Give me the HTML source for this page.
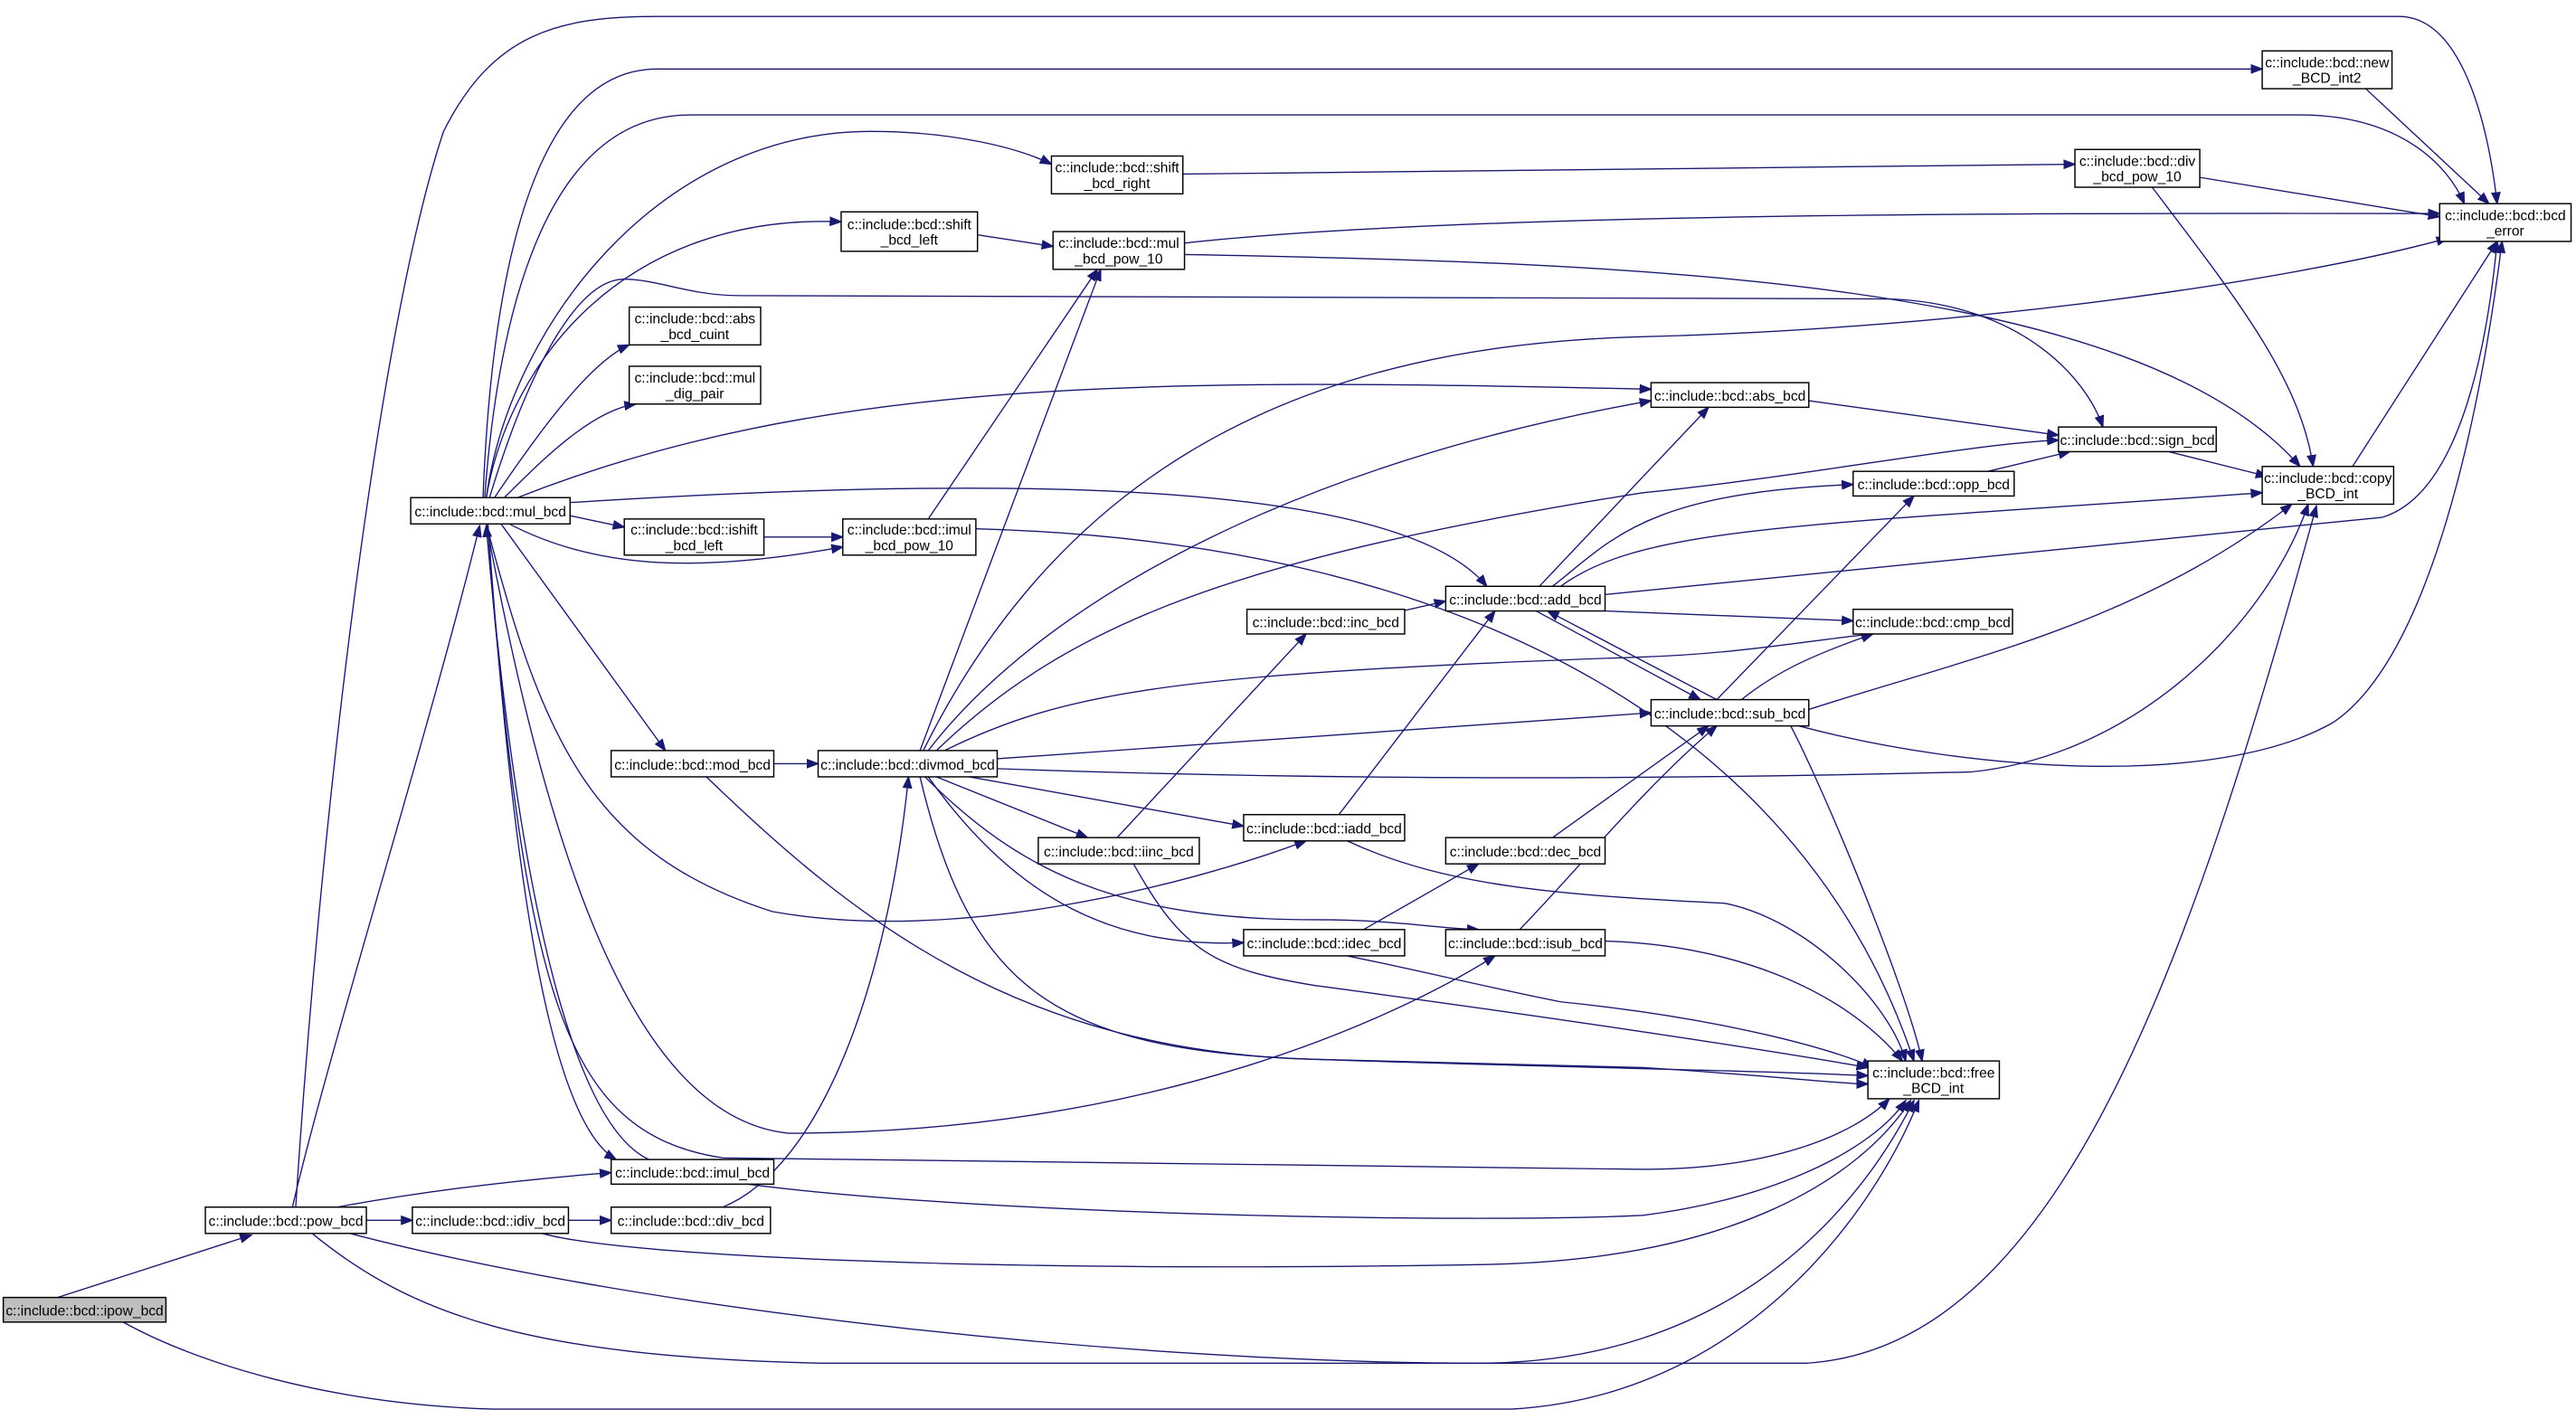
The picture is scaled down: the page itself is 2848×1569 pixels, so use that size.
<!DOCTYPE html>
<html><head><meta charset="utf-8"><style>
html,body{margin:0;padding:0;background:#fff;width:2848px;height:1569px;overflow:hidden}
svg{display:block}
text{font-family:"Liberation Sans",sans-serif;font-size:8.6px;fill:#000}
</style></head><body>
<svg width="2848" height="1569" viewBox="0 0 1568 864" preserveAspectRatio="none" xmlns="http://www.w3.org/2000/svg">
<defs>
<marker id="a" markerUnits="userSpaceOnUse" markerWidth="8" markerHeight="6" refX="7" refY="3" orient="auto" viewBox="0 0 8 6">
<path d="M0,0 L8,3 L0,6 z" fill="#191970"/></marker>
</defs>
<g fill="none" stroke="#191970" stroke-width="0.75" marker-end="url(#a)">
<path d="M35,790 L153,752"/>
<path d="M75,805 C120,830 200,855 300,858 L920,858 C1060,850 1140,740 1168,670"/>
<path d="M178,735 C200,640 260,450 292,320"/>
<path d="M395,706 C360,690 320,600 296,320"/>
<path d="M297,319 C310,500 330,680 375,706"/>
<path d="M205,735 C260,725 320,718 372,714"/>
<path d="M223,743 L251,743"/>
<path d="M346,743 L372,743"/>
<path d="M440,735 C500,710 540,600 553,473"/>
<path d="M180,735 C195,500 230,200 270,80 C300,20 340,10 400,10 L1460,10 C1500,10 1515,80 1520,124"/>
<path d="M190,751 C250,800 320,826 500,830 L1100,830 C1250,820 1330,600 1410,308"/>
<path d="M213,751 C400,800 700,830 900,830 C1050,830 1130,740 1165,670"/>
<path d="M330,751 C380,765 600,775 900,770 C1050,768 1130,720 1163,670"/>
<path d="M455,721 C600,740 900,745 1000,740 C1080,730 1140,700 1160,670"/>
<path d="M296,319 C320,600 340,690 440,705 L1000,712 C1080,712 1130,690 1150,669"/>
<path d="M296,319 C330,500 380,680 480,690 C700,690 850,620 910,582"/>
<path d="M296,319 C330,450 360,520 470,555 C580,575 720,540 795,512"/>
<path d="M305,319 L405,457"/>
<path d="M310,319 C360,345 420,350 513,333"/>
<path d="M347,314 L380,321"/>
<path d="M465,327 L513,327"/>
<path d="M565,316 L668,164"/>
<path d="M560,457 L670,164"/>
<path d="M594,322 C900,330 1100,450 1165,646"/>
<path d="M301,303 C330,260 360,220 383,210"/>
<path d="M307,303 C330,280 360,250 387,246"/>
<path d="M315,303 C500,230 700,230 1005,237"/>
<path d="M347,306 C600,290 850,290 905,357"/>
<path d="M298,303 C320,230 350,170 380,170 C400,170 420,180 450,180 L1150,182 C1230,185 1270,230 1280,260"/>
<path d="M296,303 C310,220 380,130 512,135"/>
<path d="M296,303 C310,200 400,80 530,80 C580,80 620,90 640,100"/>
<path d="M294,303 C300,150 330,42 400,42 L1377,42"/>
<path d="M295,303 C305,170 340,70 420,70 L1400,70 C1460,70 1490,100 1500,124"/>
<path d="M595,143 L641,150"/>
<path d="M721,148 C900,128 1300,130 1485,130"/>
<path d="M721,155 C1000,160 1300,170 1400,284"/>
<path d="M720,106 L1263,100"/>
<path d="M1339,108 L1485,132"/>
<path d="M1310,114 C1360,180 1400,230 1408,284"/>
<path d="M1440,54 L1515,124"/>
<path d="M1432,284 L1520,147"/>
<path d="M1101,244 L1253,265"/>
<path d="M1320,275 L1380,290"/>
<path d="M1210,287 L1260,275"/>
<path d="M937,357 L1040,248"/>
<path d="M945,357 C980,330 1000,300 1128,295"/>
<path d="M950,357 C1000,320 1100,320 1377,300"/>
<path d="M977,362 C1200,340 1400,320 1450,315 C1500,300 1515,200 1520,147"/>
<path d="M977,372 L1128,378"/>
<path d="M935,372 L1035,426"/>
<path d="M1045,426 L942,372"/>
<path d="M845,374 L880,366"/>
<path d="M1045,426 L1165,302"/>
<path d="M1060,426 C1080,410 1100,400 1140,386"/>
<path d="M1101,432 C1200,400 1300,380 1395,307"/>
<path d="M1095,442 C1200,470 1350,480 1420,440 C1480,400 1510,250 1523,147"/>
<path d="M1090,442 C1110,480 1160,600 1170,646"/>
<path d="M562,457 C650,280 800,210 1000,205 C1200,200 1400,170 1490,145"/>
<path d="M565,457 C640,360 800,280 1005,244"/>
<path d="M570,457 C650,380 750,340 1000,300 C1100,290 1200,270 1253,268"/>
<path d="M575,457 C650,420 720,410 1000,400 C1060,398 1100,390 1140,386"/>
<path d="M607,462 L1005,434"/>
<path d="M607,468 C800,475 1000,475 1200,470 C1300,460 1380,380 1405,307"/>
<path d="M570,473 L662,510"/>
<path d="M590,473 L757,503"/>
<path d="M565,473 C620,550 680,577 757,574"/>
<path d="M563,473 C620,530 680,560 800,560 C850,560 870,565 900,566"/>
<path d="M560,473 C590,600 640,640 800,645 L1000,650 C1080,655 1120,660 1137,660"/>
<path d="M471,465 L498,465"/>
<path d="M430,473 C520,560 620,640 800,645 C950,650 1080,652 1137,655"/>
<path d="M680,510 L795,386"/>
<path d="M690,526 C720,580 740,590 800,600 C950,620 1080,640 1137,650"/>
<path d="M815,496 L910,372"/>
<path d="M820,512 C880,540 950,545 1050,550 C1100,560 1150,610 1160,646"/>
<path d="M945,510 L1040,442"/>
<path d="M830,566 L900,526"/>
<path d="M820,582 C860,590 900,600 950,610 C1050,620 1120,640 1140,650"/>
<path d="M925,566 C960,530 1000,480 1045,442"/>
<path d="M977,573 C1050,575 1120,600 1158,646"/>
</g>
<g stroke="#000" stroke-width="0.8" fill="#fff">
<rect x="2" y="790" width="99" height="15" fill="#bfbfbf"/>
<rect x="125" y="735" width="98" height="16"/>
<rect x="251" y="735" width="95" height="16"/>
<rect x="372" y="735" width="97" height="16"/>
<rect x="372" y="706" width="99" height="15"/>
<rect x="250" y="303" width="97" height="16"/>
<rect x="372" y="457" width="99" height="16"/>
<rect x="498" y="457" width="109" height="16"/>
<rect x="380" y="316" width="85" height="22"/>
<rect x="513" y="316" width="81" height="22"/>
<rect x="383" y="187" width="80" height="23"/>
<rect x="383" y="223" width="80" height="23"/>
<rect x="512" y="129" width="83" height="24"/>
<rect x="641" y="141" width="80" height="23"/>
<rect x="640" y="95" width="80" height="23"/>
<rect x="1263" y="91" width="76" height="23"/>
<rect x="1377" y="31" width="79" height="23"/>
<rect x="1485" y="124" width="80" height="23"/>
<rect x="1005" y="233" width="96" height="15"/>
<rect x="1253" y="260" width="96" height="15"/>
<rect x="1377" y="284" width="80" height="23"/>
<rect x="1128" y="287" width="98" height="15"/>
<rect x="880" y="357" width="97" height="15"/>
<rect x="1128" y="371" width="97" height="15"/>
<rect x="759" y="371" width="96" height="15"/>
<rect x="1005" y="426" width="96" height="16"/>
<rect x="757" y="496" width="98" height="16"/>
<rect x="880" y="510" width="97" height="16"/>
<rect x="632" y="510" width="98" height="16"/>
<rect x="757" y="566" width="98" height="16"/>
<rect x="880" y="566" width="97" height="16"/>
<rect x="1137" y="646" width="80" height="23"/>
</g>
<g text-anchor="middle" lengthAdjust="spacingAndGlyphs">
<text x="51.5" y="801">c::include::bcd::ipow_bcd</text>
<text x="174" y="746.5">c::include::bcd::pow_bcd</text>
<text x="298.5" y="746.5">c::include::bcd::idiv_bcd</text>
<text x="420.5" y="746.5">c::include::bcd::div_bcd</text>
<text x="421.5" y="717">c::include::bcd::imul_bcd</text>
<text x="298.5" y="314.5">c::include::bcd::mul_bcd</text>
<text x="421.5" y="468.5">c::include::bcd::mod_bcd</text>
<text x="552.5" y="468.5">c::include::bcd::divmod_bcd</text>
<text x="422.5" y="325.5">c::include::bcd::ishift</text><text x="422.5" y="335">_bcd_left</text>
<text x="553.5" y="325.5">c::include::bcd::imul</text><text x="553.5" y="335">_bcd_pow_10</text>
<text x="423" y="197">c::include::bcd::abs</text><text x="423" y="206.5">_bcd_cuint</text>
<text x="423" y="233">c::include::bcd::mul</text><text x="423" y="242.5">_dig_pair</text>
<text x="553.5" y="139.5">c::include::bcd::shift</text><text x="553.5" y="149">_bcd_left</text>
<text x="681" y="151">c::include::bcd::mul</text><text x="681" y="160.5">_bcd_pow_10</text>
<text x="680" y="105">c::include::bcd::shift</text><text x="680" y="114.5">_bcd_right</text>
<text x="1301" y="101">c::include::bcd::div</text><text x="1301" y="110.5">_bcd_pow_10</text>
<text x="1416.5" y="41">c::include::bcd::new</text><text x="1416.5" y="50.5">_BCD_int2</text>
<text x="1525" y="134">c::include::bcd::bcd</text><text x="1525" y="143.5">_error</text>
<text x="1053" y="244">c::include::bcd::abs_bcd</text>
<text x="1301" y="271">c::include::bcd::sign_bcd</text>
<text x="1417" y="294">c::include::bcd::copy</text><text x="1417" y="303.5">_BCD_int</text>
<text x="1177" y="298">c::include::bcd::opp_bcd</text>
<text x="928.5" y="368">c::include::bcd::add_bcd</text>
<text x="1176.5" y="382">c::include::bcd::cmp_bcd</text>
<text x="807" y="382">c::include::bcd::inc_bcd</text>
<text x="1053" y="437.5">c::include::bcd::sub_bcd</text>
<text x="806" y="507.5">c::include::bcd::iadd_bcd</text>
<text x="928.5" y="521.5">c::include::bcd::dec_bcd</text>
<text x="681" y="521.5">c::include::bcd::iinc_bcd</text>
<text x="806" y="577.5">c::include::bcd::idec_bcd</text>
<text x="928.5" y="577.5">c::include::bcd::isub_bcd</text>
<text x="1177" y="656">c::include::bcd::free</text><text x="1177" y="665.5">_BCD_int</text>
</g>
</svg>
</body></html>
